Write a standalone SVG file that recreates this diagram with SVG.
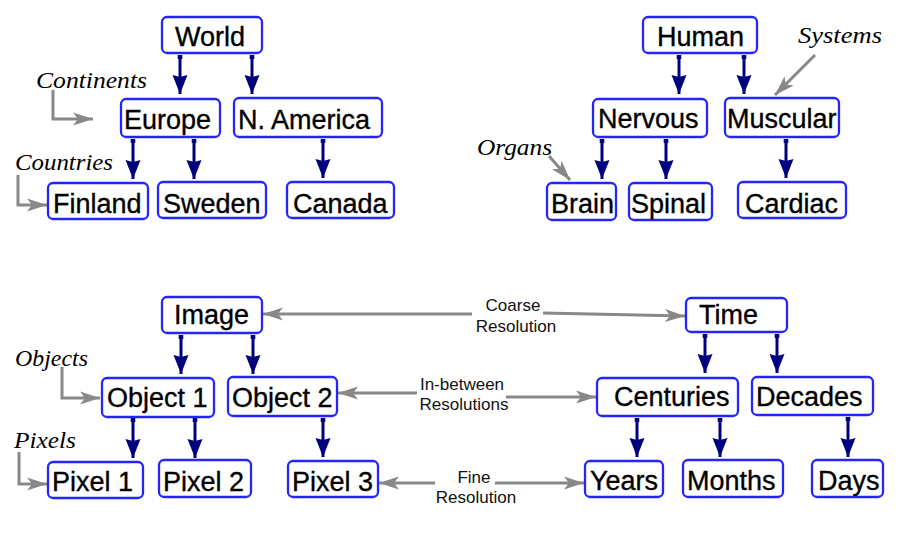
<svg xmlns="http://www.w3.org/2000/svg" width="924" height="546" viewBox="0 0 924 546">
<style>
.box{fill:#fff;stroke:#2424ff;stroke-width:2.3}
.nt{font-family:"Liberation Sans",Arial,sans-serif;font-size:27px;fill:#000;stroke:#000;stroke-width:0.35}
.lab{font-family:"Liberation Serif","Times New Roman",serif;font-style:italic;font-size:23px;fill:#000}
.res{font-family:"Liberation Sans",Arial,sans-serif;font-size:17px;fill:#111;text-anchor:middle}
.nav{stroke:#00007f;stroke-width:3;fill:none;marker-start:url(#sq);marker-end:url(#nh)}
.gr{stroke:#888;stroke-width:3;fill:none}
.ge{marker-end:url(#gh)}
.gs{marker-start:url(#ghs)}
</style>
<defs>
<marker id="nh" markerUnits="userSpaceOnUse" viewBox="-21 -9 23 18" refX="0" refY="0" markerWidth="23" markerHeight="18" orient="auto"><path d="M0,0 L-19,-7.5 L-17,0 L-19,7.5 Z" fill="#00007f"/></marker>
<marker id="sq" markerUnits="userSpaceOnUse" viewBox="-4 -4 8 8" refX="0" refY="0" markerWidth="8" markerHeight="8" orient="auto"><rect x="-2" y="-2.3" width="4" height="4.6" fill="#00007f"/></marker>
<marker id="gh" markerUnits="userSpaceOnUse" viewBox="-22 -8 24 16" refX="0" refY="0" markerWidth="24" markerHeight="16" orient="auto"><path d="M0,0 L-20,-6.5 L-15,0 L-20,6.5 Z" fill="#888"/></marker>
<marker id="ghs" markerUnits="userSpaceOnUse" viewBox="-2 -8 24 16" refX="0" refY="0" markerWidth="24" markerHeight="16" orient="auto"><path d="M0,0 L20,-6.5 L15,0 L20,6.5 Z" fill="#888"/></marker>
</defs>

<g id="connectors">
<path class="nav" d="M180,57 V94"/>
<path class="nav" d="M252,57 V94"/>
<path class="nav" d="M133,141 V179"/>
<path class="nav" d="M194,141 V179"/>
<path class="nav" d="M323,141 V178"/>
<path class="nav" d="M679,57 V94"/>
<path class="nav" d="M744,57 V94"/>
<path class="nav" d="M602,141 V179"/>
<path class="nav" d="M666,141 V179"/>
<path class="nav" d="M786,141 V178"/>
<path class="nav" d="M181,337 V374"/>
<path class="nav" d="M253,337 V374"/>
<path class="nav" d="M133,420 V458"/>
<path class="nav" d="M195,420 V458"/>
<path class="nav" d="M323,420 V457"/>
<path class="nav" d="M705,336 V373"/>
<path class="nav" d="M777,336 V373"/>
<path class="nav" d="M637,420 V457"/>
<path class="nav" d="M720,420 V457"/>
<path class="nav" d="M848,419 V457"/>

<path class="gr ge" d="M53,90 V119 H93"/>
<path class="gr ge" d="M18,175 V205 H47"/>
<path class="gr ge" d="M62,367 V398 H100"/>
<path class="gr ge" d="M19,452 V484 H47"/>
<path class="gr ge" d="M815,55 L775,95"/>
<path class="gr ge" d="M549,156 L570,180"/>

<path class="gr gs" d="M263,314 H472"/>
<path class="gr ge" d="M543,313 L685,316"/>
<path class="gr gs" d="M338,393 H417"/>
<path class="gr ge" d="M506,397 H596"/>
<path class="gr gs" d="M379,483 H435"/>
<path class="gr ge" d="M495,483 H584"/>
</g>

<g id="labels">
<text class="lab" x="36" y="88" textLength="111" lengthAdjust="spacingAndGlyphs">Continents</text>
<text class="lab" x="15" y="170" textLength="98" lengthAdjust="spacingAndGlyphs">Countries</text>
<text class="lab" x="798" y="43" textLength="84" lengthAdjust="spacingAndGlyphs">Systems</text>
<text class="lab" x="477" y="155" textLength="75" lengthAdjust="spacingAndGlyphs">Organs</text>
<text class="lab" x="15" y="366" textLength="73" lengthAdjust="spacingAndGlyphs">Objects</text>
<text class="lab" x="14" y="448" textLength="62" lengthAdjust="spacingAndGlyphs">Pixels</text>
<text class="res" x="513" y="311">Coarse</text>
<text class="res" x="516" y="332">Resolution</text>
<text class="res" x="462" y="390">In-between</text>
<text class="res" x="464" y="410">Resolutions</text>
<text class="res" x="474" y="483">Fine</text>
<text class="res" x="476" y="503">Resolution</text>
</g>

<g id="world"><rect class="box" x="162" y="17" width="100" height="36" rx="5"/><text class="nt" x="175" y="46">World</text></g>
<g id="europe"><rect class="box" x="121" y="99" width="99" height="38" rx="5"/><text class="nt" x="124" y="129">Europe</text></g>
<g id="namerica"><rect class="box" x="234" y="98" width="148" height="39" rx="5"/><text class="nt" x="238" y="129">N. America</text></g>
<g id="finland"><rect class="box" x="48" y="183" width="100" height="36" rx="5"/><text class="nt" x="53" y="213">Finland</text></g>
<g id="sweden"><rect class="box" x="158" y="182" width="108" height="36" rx="5"/><text class="nt" x="163" y="213">Sweden</text></g>
<g id="canada"><rect class="box" x="287" y="182" width="107" height="36" rx="5"/><text class="nt" x="293" y="213">Canada</text></g>

<g id="human"><rect class="box" x="643" y="17" width="114" height="36" rx="5"/><text class="nt" x="657" y="46">Human</text></g>
<g id="nervous"><rect class="box" x="593" y="99" width="114" height="38" rx="5"/><text class="nt" x="598" y="128">Nervous</text></g>
<g id="muscular"><rect class="box" x="725" y="98" width="114" height="39" rx="5"/><text class="nt" x="727" y="128">Muscular</text></g>
<g id="brain"><rect class="box" x="547" y="183" width="69" height="37" rx="5"/><text class="nt" x="551" y="213">Brain</text></g>
<g id="spinal"><rect class="box" x="629" y="183" width="83" height="37" rx="5"/><text class="nt" x="631" y="213">Spinal</text></g>
<g id="cardiac"><rect class="box" x="738" y="182" width="108" height="36" rx="5"/><text class="nt" x="745" y="213">Cardiac</text></g>

<g id="image"><rect class="box" x="162" y="297" width="100" height="36" rx="5"/><text class="nt" x="174" y="324">Image</text></g>
<g id="object1"><rect class="box" x="102" y="378" width="112" height="39" rx="5"/><text class="nt" x="107" y="407">Object 1</text></g>
<g id="object2"><rect class="box" x="228" y="377" width="109" height="39" rx="5"/><text class="nt" x="232" y="407">Object 2</text></g>
<g id="pixel1"><rect class="box" x="48" y="462" width="95" height="36" rx="5"/><text class="nt" x="52" y="491">Pixel 1</text></g>
<g id="pixel2"><rect class="box" x="159" y="460" width="92" height="37" rx="5"/><text class="nt" x="163" y="491">Pixel 2</text></g>
<g id="pixel3"><rect class="box" x="288" y="461" width="90" height="36" rx="5"/><text class="nt" x="292" y="491">Pixel 3</text></g>

<g id="time"><rect class="box" x="686" y="298" width="101" height="34" rx="5"/><text class="nt" x="699" y="324">Time</text></g>
<g id="centuries"><rect class="box" x="597" y="378" width="141" height="38" rx="5"/><text class="nt" x="614" y="406">Centuries</text></g>
<g id="decades"><rect class="box" x="752" y="377" width="121" height="38" rx="5"/><text class="nt" x="756" y="406">Decades</text></g>
<g id="years"><rect class="box" x="585" y="461" width="78" height="36" rx="5"/><text class="nt" x="590" y="490">Years</text></g>
<g id="months"><rect class="box" x="683" y="460" width="100" height="37" rx="5"/><text class="nt" x="687" y="490">Months</text></g>
<g id="days"><rect class="box" x="812" y="460" width="71" height="37" rx="5"/><text class="nt" x="818" y="490">Days</text></g>
</svg>
